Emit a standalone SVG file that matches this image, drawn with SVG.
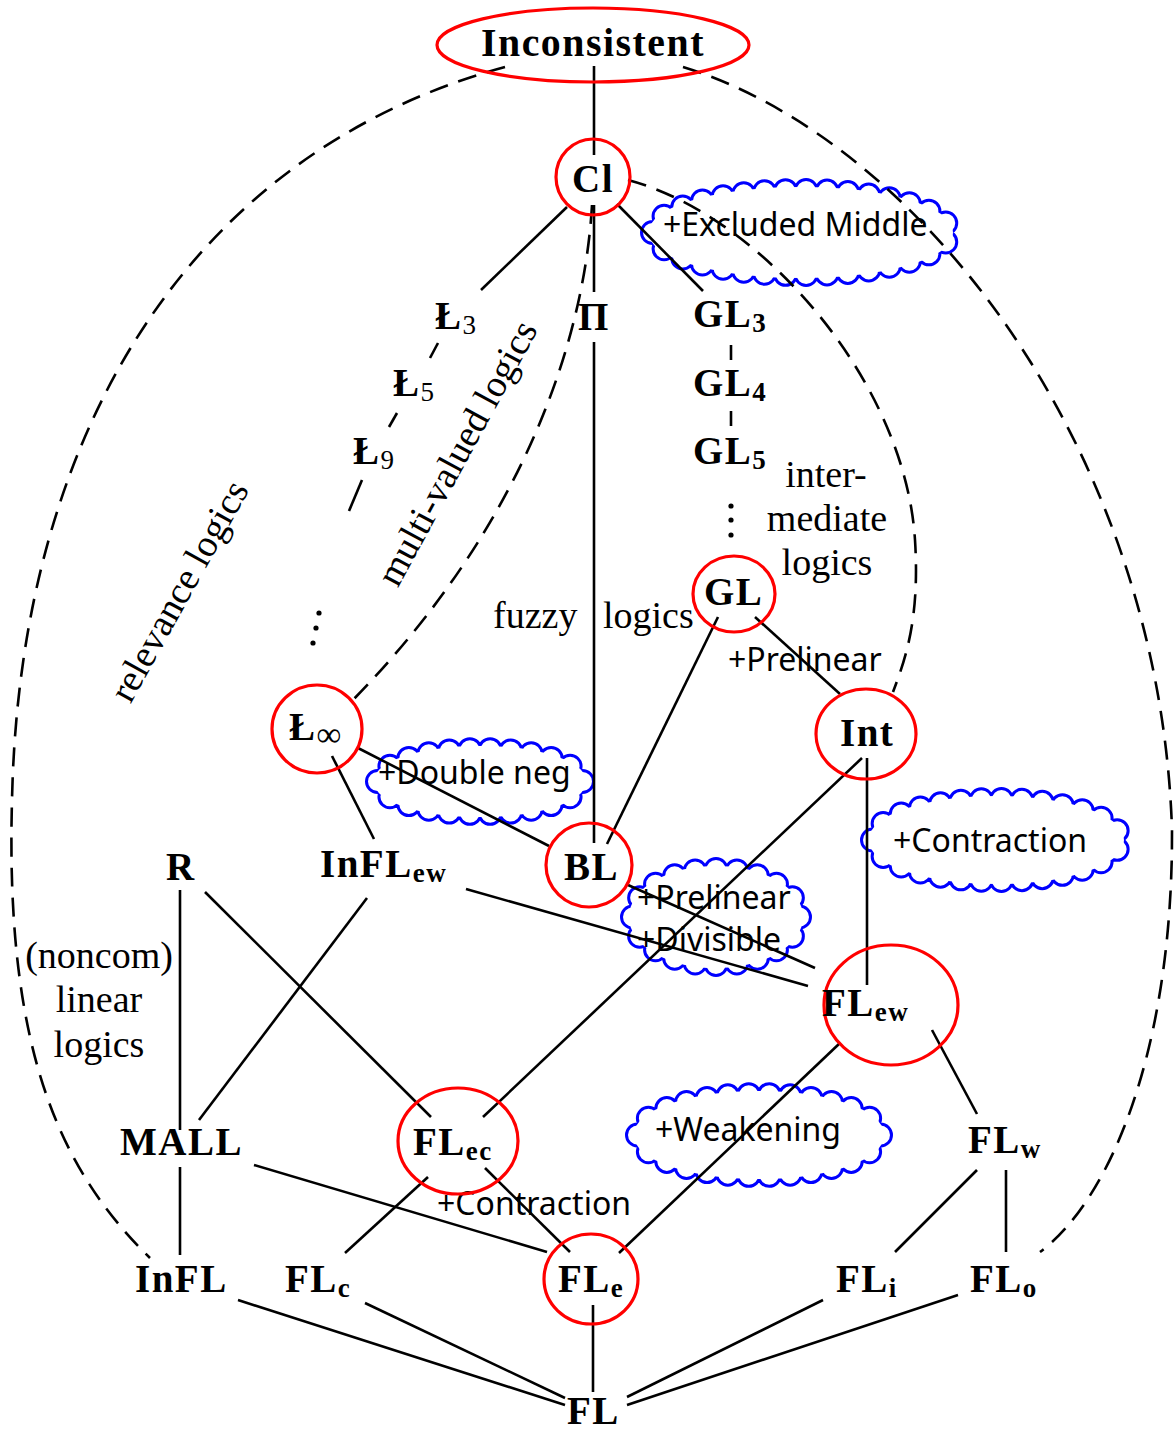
<svg xmlns="http://www.w3.org/2000/svg" xmlns:xlink="http://www.w3.org/1999/xlink" width="1174" height="1433" viewBox="0 0 1174 1433">
<style>
.e{fill:none;stroke:#000;stroke-width:2.6;stroke-linecap:butt}
.d{fill:none;stroke:#000;stroke-width:2.6;stroke-dasharray:19 11}
.n{fill:none;stroke:#ff0000;stroke-width:3.2}
.b{font-family:"Liberation Serif",serif;font-weight:bold;font-size:39px;letter-spacing:1.5px;fill:#000}
.sb{font-size:27px}
.sr{font-size:27px;font-weight:normal}
.inf{font-size:35px;font-weight:normal;letter-spacing:0}
.r{font-family:"Liberation Serif",serif;font-size:38px;fill:#000}
.s{font-family:"Noto Sans",sans-serif;font-size:32px;fill:#000}
.cb{fill:none;stroke:#0000ff;stroke-width:25;stroke-linecap:round;stroke-dasharray:0 1}
.cw{fill:none;stroke:#fff;stroke-width:19;stroke-linecap:round;stroke-dasharray:0 1}
.cf{fill:#fff;stroke:#fff;stroke-width:7}
.dot{fill:#000}
</style>
<defs>
<path id="p1" pathLength="31" d="M652.5,232.5 a148.5,42 0 1,1 297,0 a148.5,42 0 1,1 -297,0Z"/>
<path id="p2" pathLength="22" d="M377.5,781.5 a102.5,32 0 1,1 205,0 a102.5,32 0 1,1 -205,0Z"/>
<path id="p3" pathLength="27" d="M872.5,840 a124,40.5 0 1,1 248,0 a124,40.5 0 1,1 -248,0Z"/>
<path id="p4" pathLength="20" d="M632.5,917 a83.5,47.5 0 1,1 167,0 a83.5,47.5 0 1,1 -167,0Z"/>
<path id="p5" pathLength="26" d="M637.5,1135 a121.5,40.5 0 1,1 243,0 a121.5,40.5 0 1,1 -243,0Z"/>
</defs>

<g id="cloud-excluded-middle">
<use xlink:href="#p1" class="cb"/><use xlink:href="#p1" class="cw"/><use xlink:href="#p1" class="cf"/>
</g>
<g id="cloud-double-neg">
<use xlink:href="#p2" class="cb"/><use xlink:href="#p2" class="cw"/><use xlink:href="#p2" class="cf"/>
</g>
<g id="cloud-contraction">
<use xlink:href="#p3" class="cb"/><use xlink:href="#p3" class="cw"/><use xlink:href="#p3" class="cf"/>
</g>
<g id="cloud-prelinear-divisible">
<use xlink:href="#p4" class="cb"/><use xlink:href="#p4" class="cw"/><use xlink:href="#p4" class="cf"/>
</g>
<g id="cloud-weakening">
<use xlink:href="#p5" class="cb"/><use xlink:href="#p5" class="cw"/><use xlink:href="#p5" class="cf"/>
</g>

<g id="cloud-labels">
<text class="s" x="663" y="236">+Excluded Middle</text>
<text class="s" x="378" y="784">+Double neg</text>
<text class="s" x="893" y="852">+Contraction</text>
<text class="s" x="637" y="909">+Prelinear</text>
<text class="s" x="637" y="951">+Divisible</text>
<text class="s" x="655" y="1141">+Weakening</text>
</g>

<g id="labels">
<text class="s" x="728" y="671">+Prelinear</text>
<text class="s" x="437" y="1215">+Contraction</text>
<text class="r" x="826" y="487" text-anchor="middle">inter-</text>
<text class="r" x="827" y="531" text-anchor="middle">mediate</text>
<text class="r" x="827" y="575" text-anchor="middle">logics</text>
<text class="r" x="493" y="628">fuzzy</text>
<text class="r" x="603" y="628">logics</text>
<text class="r" x="99" y="968" text-anchor="middle">(noncom)</text>
<text class="r" x="99" y="1012" text-anchor="middle">linear</text>
<text class="r" x="99" y="1057" text-anchor="middle">logics</text>
<text class="r" x="0" y="0" text-anchor="middle" transform="translate(190,597) rotate(-61)">relevance logics</text>
<text class="r" x="0" y="0" text-anchor="middle" transform="translate(468,459) rotate(-61.5)">multi-valued logics</text>
<circle class="dot" cx="319" cy="613" r="2.6"/><circle class="dot" cx="316" cy="628" r="2.6"/><circle class="dot" cx="313" cy="643" r="2.6"/>
<circle class="dot" cx="731" cy="506" r="2.6"/><circle class="dot" cx="731" cy="520" r="2.6"/><circle class="dot" cx="731" cy="535" r="2.6"/>
</g>

<g id="connectors">
<path class="e" d="M594,66V155"/>
<path class="e" d="M567,207L481,290"/>
<path class="e" d="M594,205V292"/>
<path class="e" d="M617,204L703,291"/>
<path class="e" d="M594,342V843"/>
<path class="e" d="M718,617L607,844"/>
<path class="e" d="M755,617L840,694"/>
<path class="e" d="M862,758L483,1117"/>
<path class="e" d="M867,758V985"/>
<path class="e" d="M358,748L549,846"/>
<path class="e" d="M332,756L374,839"/>
<path class="e" d="M628,885L815,968"/>
<path class="e" d="M466,889L808,986"/>
<path class="e" d="M180,890V1130"/>
<path class="e" d="M205,892L431,1117"/>
<path class="e" d="M367,898L199,1120"/>
<path class="e" d="M180,1167V1255"/>
<path class="e" d="M254,1165L547,1252"/>
<path class="e" d="M428,1177L345,1253"/>
<path class="e" d="M485,1168L570,1252"/>
<path class="e" d="M840,1043L619,1253"/>
<path class="e" d="M932,1030L977,1114"/>
<path class="e" d="M977,1170L895,1252"/>
<path class="e" d="M1006,1170V1252"/>
<path class="e" d="M238,1300L565,1405"/>
<path class="e" d="M365,1303L565,1398"/>
<path class="e" d="M593,1305V1392"/>
<path class="e" d="M823,1300L627,1397"/>
<path class="e" d="M958,1295L627,1405"/>
<path class="e" d="M438,343L430,358"/>
<path class="e" d="M397,413L389,427"/>
<path class="e" d="M362,480L349,511"/>
<path class="e" d="M731,345V360"/>
<path class="e" d="M731,411V426"/>
<path class="d" d="M505,67C200,150 20,420 12,800C5,1050 60,1170 150,1258"/>
<path class="d" d="M683,67C920,140 1160,450 1172,830C1173,1050 1110,1200 1040,1252"/>
<path class="d" d="M592,205C585,330 530,520 350,703"/>
<path class="d" d="M628,180C760,215 905,380 915,540C920,620 905,660 893,692"/>
</g>

<g id="n-inconsistent"><ellipse class="n" cx="593" cy="45" rx="156" ry="37"/><text class="b" x="593" y="56" text-anchor="middle" textLength="224" lengthAdjust="spacingAndGlyphs">Inconsistent</text></g>
<g id="n-cl"><ellipse class="n" cx="593" cy="177" rx="37" ry="38"/><text class="b" x="572" y="192">Cl</text></g>
<g id="n-l3"><text class="b" x="435" y="329">Ł<tspan class="sr" dy="5">3</tspan></text></g>
<g id="n-l5"><text class="b" x="393" y="396">Ł<tspan class="sr" dy="5">5</tspan></text></g>
<g id="n-l9"><text class="b" x="353" y="464">Ł<tspan class="sr" dy="5">9</tspan></text></g>
<g id="n-pi"><text class="b" x="578" y="330">Π</text></g>
<g id="n-gl3"><text class="b" x="693" y="327">GL<tspan class="sb" dy="5">3</tspan></text></g>
<g id="n-gl4"><text class="b" x="693" y="396">GL<tspan class="sb" dy="5">4</tspan></text></g>
<g id="n-gl5"><text class="b" x="693" y="464">GL<tspan class="sb" dy="5">5</tspan></text></g>
<g id="n-gl"><ellipse class="n" cx="734" cy="594" rx="41" ry="38"/><text class="b" x="704" y="605">GL</text></g>
<g id="n-linf"><ellipse class="n" cx="317" cy="729" rx="45" ry="44"/><text class="b" x="289" y="740">Ł<tspan class="inf" dy="6">∞</tspan></text></g>
<g id="n-int"><ellipse class="n" cx="866" cy="734" rx="50" ry="45"/><text class="b" x="840" y="746">Int</text></g>
<g id="n-bl"><ellipse class="n" cx="589" cy="865" rx="43" ry="42"/><text class="b" x="564" y="880">BL</text></g>
<g id="n-inflew"><text class="b" x="320" y="877">InFL<tspan class="sb" dy="5">ew</tspan></text></g>
<g id="n-r"><text class="b" x="166" y="880">R</text></g>
<g id="n-flew"><ellipse class="n" cx="891" cy="1005" rx="67" ry="60"/><text class="b" x="822" y="1016">FL<tspan class="sb" dy="5">ew</tspan></text></g>
<g id="n-mall"><text class="b" x="120" y="1155">MALL</text></g>
<g id="n-flec"><ellipse class="n" cx="458" cy="1141" rx="60" ry="53"/><text class="b" x="413" y="1155">FL<tspan class="sb" dy="5">ec</tspan></text></g>
<g id="n-flw"><text class="b" x="968" y="1153">FL<tspan class="sb" dy="5">w</tspan></text></g>
<g id="n-infl"><text class="b" x="135" y="1292">InFL</text></g>
<g id="n-flc"><text class="b" x="285" y="1292">FL<tspan class="sb" dy="5">c</tspan></text></g>
<g id="n-fle"><ellipse class="n" cx="591" cy="1279" rx="47" ry="45"/><text class="b" x="558" y="1292">FL<tspan class="sb" dy="5">e</tspan></text></g>
<g id="n-fli"><text class="b" x="836" y="1292">FL<tspan class="sb" dy="5">i</tspan></text></g>
<g id="n-flo"><text class="b" x="970" y="1292">FL<tspan class="sb" dy="5">o</tspan></text></g>
<g id="n-fl"><text class="b" x="567" y="1424">FL</text></g>
</svg>
